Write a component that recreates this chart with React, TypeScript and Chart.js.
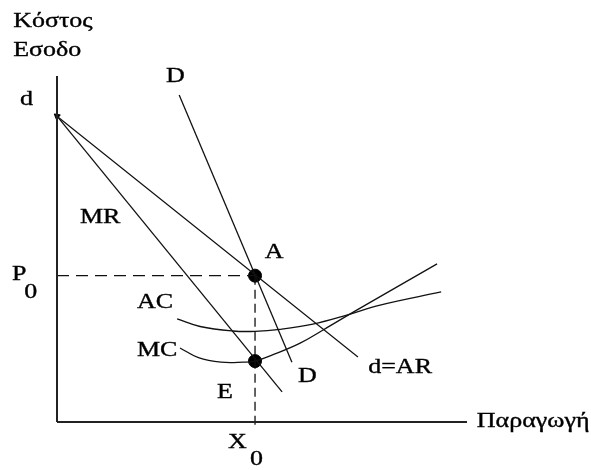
import React, { useEffect, useRef } from "react";
import { Chart, registerables } from "chart.js";

Chart.register(...registerables);

// Demand curve d = AR
const demandX = [0, 73.4];
const demandY = [88.4, 18.8];
// Marginal revenue MR
const mrX = [0, 54.9];
const mrY = [88.4, 8.7];
// Market demand DD
const ddX = [29.8, 57.3];
const ddY = [94.5, 17.3];
// Average cost AC
const acX = [29.3, 34.9, 42.9, 48.3, 54.4, 62.4, 70.7, 78.8, 93.7];
const acY = [29.8, 27.6, 26.3, 26.2, 26.8, 28.3, 30.9, 33.8, 37.6];
// Marginal cost MC
const mcX = [30.0, 34.5, 40.0, 45.5, 48.3, 53.0, 59.3, 64.9, 73.2, 92.7];
const mcY = [21.4, 18.6, 17.3, 17.3, 17.6, 19.6, 22.8, 26.6, 32.4, 45.7];
// Equilibrium
const outputX0 = 48.3;
const priceP0 = 42.3;
const mcAtX0 = 17.6;
// Axes
const axisMax = 100;

// Text labels (data coordinates: left edge, vertical centre)
const labelText = ["Κόστος", "Εσοδο", "d", "D", "MR", "A", "P", "0", "AC", "MC", "E", "D", "d=AR", "Παραγωγή", "X", "0"];
const labelX = [-10.7, -10.7, -9.0, 26.6, 5.6, 50.7, -11.0, -8.0, 19.5, 19.5, 39.0, 58.8, 75.9, 102.4, 41.7, 47.1];
const labelY = [115.6, 107.2, 93.1, 99.7, 59.0, 48.8, 42.5, 37.3, 34.4, 20.5, 8.4, 13.0, 15.6, 0, -6.1, -11.0];

const pts = (xs: number[], ys: number[]) => xs.map((x, i) => ({ x, y: ys[i] }));

const INK = "#111";

const labelPlugin = {
  id: "econLabels",
  afterDatasetsDraw(chart: any) {
    const { ctx, scales } = chart;
    const xs = scales.x;
    const ys = scales.y;
    ctx.save();
    ctx.fillStyle = "#000";
    ctx.strokeStyle = "#000";
    ctx.lineWidth = 0.35;
    ctx.textBaseline = "middle";
    ctx.textAlign = "left";
    labelText.forEach((t, i) => {
      const px = xs.getPixelForValue(labelX[i]);
      const py = ys.getPixelForValue(labelY[i]);
      ctx.save();
      ctx.translate(px, py);
      ctx.scale(1.3, 1);
      ctx.font = '20px "Liberation Serif", "Times New Roman", serif';
      ctx.fillText(t, 0, 0);
      ctx.strokeText(t, 0, 0);
      ctx.restore();
    });
    ctx.restore();
  },
};

export default function App() {
  const ref = useRef<HTMLCanvasElement | null>(null);

  useEffect(() => {
    if (!ref.current) return;
    const line = (data: any[], extra: any = {}) => ({
      data,
      showLine: true,
      borderColor: INK,
      backgroundColor: INK,
      borderWidth: 1.3,
      pointRadius: 0,
      clip: false,
      ...extra,
    });
    const chart = new Chart(ref.current, {
      type: "scatter",
      data: {
        datasets: [
          line(pts([0, 0], [axisMax, 0]), { borderWidth: 2, borderColor: "#222" }),
          line(pts([0, axisMax], [0, 0]), { borderWidth: 2, borderColor: "#222" }),
          line(pts([0, outputX0], [priceP0, priceP0]), { borderDash: [12, 7] }),
          line(pts([outputX0, outputX0], [priceP0, -1.5]), { borderDash: [9, 5] }),
          line(pts(demandX, demandY)),
          line(pts(mrX, mrY)),
          line(pts(ddX, ddY)),
          line(pts(acX, acY), { tension: 0.4 }),
          line(pts(mcX, mcY), { tension: 0.4 }),
          {
            data: pts([demandX[0]], [demandY[0]]),
            showLine: false,
            pointStyle: "triangle",
            pointRadius: 3.5,
            rotation: 309,
            pointBackgroundColor: "#000",
            pointBorderColor: "#000",
            clip: false,
          },
          {
            data: pts([outputX0, outputX0], [priceP0, mcAtX0]),
            showLine: false,
            pointRadius: 6.5,
            pointBackgroundColor: "#000",
            pointBorderColor: "#000",
            clip: false,
          },
        ],
      },
      options: {
        animation: false,
        responsive: false,
        events: [],
        layout: { padding: { left: 57, right: 124, top: 76, bottom: 48 } },
        scales: {
          x: { type: "linear", min: 0, max: axisMax, display: false },
          y: { type: "linear", min: 0, max: axisMax, display: false },
        },
        plugins: { legend: { display: false }, tooltip: { enabled: false } },
      },
      plugins: [labelPlugin],
    });
    return () => chart.destroy();
  }, []);

  return (
    <div style={{ position: "absolute", left: 0, top: 0, width: 591, height: 470, background: "#fff" }}>
      <canvas ref={ref} width={591} height={470} />
    </div>
  );
}
